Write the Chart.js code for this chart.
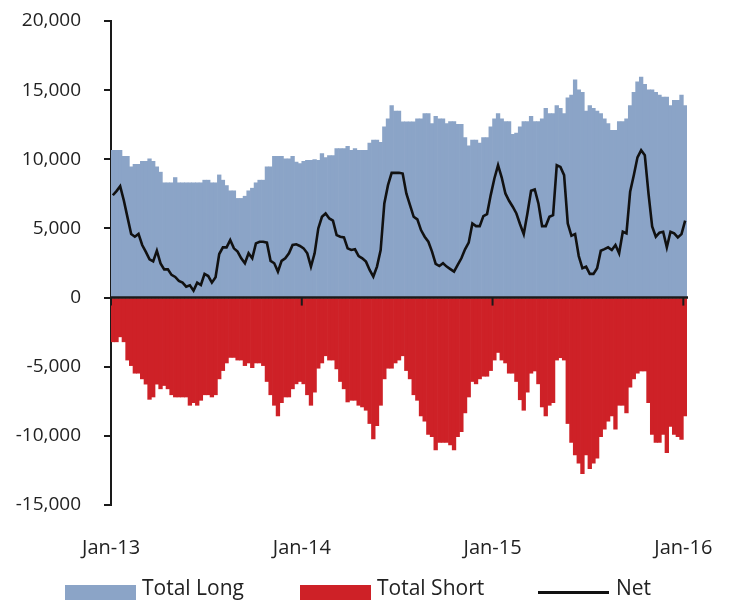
<!DOCTYPE html>
<html>
<head>
<meta charset="utf-8">
<script src="https://cdn.jsdelivr.net/npm/chart.js@4.4.1/dist/chart.umd.min.js"></script>
<style>
  html, body { margin: 0; padding: 0; background: #ffffff; }
  #wrap { position: relative; width: 733px; height: 607px; overflow: hidden; }
  #chart { position: absolute; left: 0; top: 0; }
  .lg { position: absolute; font-family: 'Open Sans', sans-serif; font-size: 21px; line-height: 21px; color: #222; white-space: nowrap; }
  .sw { position: absolute; width: 71px; height: 15px; }
  .ln { position: absolute; width: 71px; height: 3px; background: #111; }
</style>
</head>
<body>
<div id="wrap">
  <canvas id="chart" width="733" height="607"></canvas>
  <div class="sw" style="left:65px;top:585px;background:#8BA4C7"></div>
  <div class="lg" style="left:142px;top:577px">Total Long</div>
  <div class="sw" style="left:300px;top:585px;background:#CE2127"></div>
  <div class="lg" style="left:377px;top:577px">Total Short</div>
  <div class="ln" style="left:538px;top:591px"></div>
  <div class="lg" style="left:616px;top:577px">Net</div>
</div>
<script>
// Weekly positioning, Jan 2013 - Jan 2016 (contracts)
const totalLong = [
  10650,10650,10650,10220,10220,9450,9640,9640,9860,9860,
  10030,9860,9450,9070,8300,8300,8300,8680,8300,8300,
  8300,8300,8300,8300,8300,8490,8490,8300,8300,8870,
  8490,8100,7720,7720,7170,7170,7330,7720,7910,8300,
  8490,8490,9450,9450,10220,10220,10220,10030,10030,10220,
  9800,9690,9850,9930,9930,9980,9930,10410,10130,10270,
  10270,10770,10770,10770,10940,10650,10770,10650,10650,10650,
  11180,11380,11380,11230,12340,12920,13880,13490,13490,12700,
  12700,12700,12700,12920,12920,13300,13300,12580,13110,12920,
  12920,12580,12720,12720,12530,12530,11570,10970,11380,11380,
  11180,11570,11570,12340,12920,13300,12920,12720,12720,11810,
  11900,12340,12720,12720,13110,12720,12720,12920,13680,13300,
  13300,13880,13680,13300,14450,14650,15750,15030,14840,13490,
  13880,13680,13490,13300,12920,12580,12100,12100,12720,12720,
  12920,13880,14840,15610,15950,15420,15030,15030,14840,14650,
  14500,14500,13880,14260,14260,14650,13880
];

const totalShort = [
  -3200,-3200,-2840,-3200,-4520,-4920,-5470,-5470,-5880,-6260,
  -7360,-7190,-6260,-6600,-6360,-6600,-7030,-7190,-7190,-7190,
  -7190,-7790,-7600,-7790,-7430,-7030,-7030,-7190,-7030,-5880,
  -5280,-4730,-4330,-4330,-4520,-4520,-4920,-4730,-5070,-4730,
  -4730,-4920,-6070,-7030,-7790,-8560,-7600,-7190,-7190,-6600,
  -6240,-6070,-6240,-7030,-7790,-6840,-5110,-4730,-4210,-4520,
  -4520,-5160,-6070,-6600,-7550,-7430,-7430,-7790,-7910,-8150,
  -9110,-10230,-9270,-7790,-5880,-5110,-5110,-4730,-4520,-4210,
  -5280,-5880,-7030,-7430,-8560,-8940,-9890,-10060,-11020,-10470,
  -10470,-10470,-10660,-11020,-10060,-9700,-8340,-7190,-6070,-6240,
  -5880,-5690,-5690,-5280,-4520,-3970,-4520,-4730,-5470,-5470,
  -6070,-7390,-8150,-6840,-5470,-5310,-6240,-7910,-8560,-7790,
  -7600,-4520,-4350,-4520,-9110,-10470,-11380,-11970,-12740,-11380,
  -12380,-11970,-11620,-10060,-9510,-8940,-8560,-9510,-7790,-7790,
  -8340,-6480,-5880,-5470,-5310,-5310,-7600,-9890,-10470,-10470,
  -9890,-11210,-9320,-9890,-10060,-10250,-8560
];

const net = [
  7400,7700,8060,7020,5800,4600,4400,4600,3800,3300,
  2770,2620,3390,2470,2040,2040,1640,1490,1200,1080,
  790,890,500,1080,910,1710,1560,1080,1470,3150,
  3630,3630,4160,3560,3320,2840,2480,3200,2840,3920,
  4040,4040,3970,2650,2480,1880,2650,2840,3200,3800,
  3850,3730,3560,3200,2240,3200,5000,5840,6080,5720,
  5560,4520,4400,4350,3560,3440,3490,3000,2840,2600,
  2000,1520,2240,3440,6810,8130,9020,9020,9020,8970,
  7530,6690,5840,5650,4880,4400,4040,3320,2430,2280,
  2480,2240,2060,1880,2360,2840,3490,3970,5360,5170,
  5170,5890,6040,7410,8610,9570,8680,7530,7000,6570,
  6080,5300,4590,6080,7720,7820,6810,5170,5170,5840,
  5960,9570,9450,8850,5360,4470,4590,3000,2120,2240,
  1710,1710,2120,3390,3500,3630,3440,3800,3200,4760,
  4640,7650,8850,10140,10650,10290,7530,5140,4400,4690,
  4760,3630,4760,4640,4350,4590,5560
];

const xTickLabels = ['Jan-13', 'Jan-14', 'Jan-15', 'Jan-16'];
const yTicks = [-15000, -10000, -5000, 0, 5000, 10000, 15000, 20000];

// one category per weekly report date (Fridays)
const firstReport = Date.UTC(2013, 0, 4);
const weeks = totalLong.map((_, i) =>
  new Date(firstReport + i * 7 * 86400000).toISOString().slice(0, 10));

function yearStartLabel(i) {
  const d = weeks[i];
  if (d.slice(5, 7) !== '01' || +d.slice(8, 10) > 7) return '';
  return xTickLabels.find(t => t.endsWith(d.slice(2, 4))) || '';
}

const FAMILY = "'Open Sans', sans-serif";
const INK = '#222222';

// zero line across the plot with small marks where each year starts
const zeroAxis = {
  id: 'zeroAxis',
  afterDatasetsDraw(chart) {
    const { ctx, chartArea, scales: { x, y } } = chart;
    const y0 = y.getPixelForValue(0);
    const half = (x.getPixelForValue(1) - x.getPixelForValue(0)) / 2;
    ctx.save();
    ctx.strokeStyle = '#1a1a1a';
    ctx.lineWidth = 2.5;
    ctx.beginPath();
    ctx.moveTo(chartArea.left, y0);
    ctx.lineTo(chartArea.right + 1, y0);
    ctx.stroke();
    ctx.lineWidth = 2;
    weeks.forEach((_, i) => {
      if (!yearStartLabel(i)) return;
      const px = x.getPixelForValue(i) - half;
      ctx.beginPath();
      ctx.moveTo(px, y0);
      ctx.lineTo(px, y0 + 8);
      ctx.stroke();
    });
    ctx.restore();
  }
};

new Chart(document.getElementById('chart'), {
  data: {
    labels: weeks,
    datasets: [
      {
        type: 'line', label: 'Net', data: net,
        borderColor: '#111111', borderWidth: 2.6, pointRadius: 0,
        tension: 0, order: 0
      },
      {
        type: 'bar', label: 'Total Long', data: totalLong,
        backgroundColor: '#8BA4C7', borderWidth: 0, grouped: false,
        barPercentage: 1, categoryPercentage: 1, order: 2
      },
      {
        type: 'bar', label: 'Total Short', data: totalShort,
        backgroundColor: '#CE2127', borderWidth: 0, grouped: false,
        barPercentage: 1, categoryPercentage: 1, order: 1
      }
    ]
  },
  options: {
    responsive: false,
    animation: false,
    events: [],
    layout: { padding: { top: 21, right: 46, bottom: 46, left: 0 } },
    plugins: { legend: { display: false }, tooltip: { enabled: false } },
    scales: {
      x: {
        type: 'category',
        offset: true,
        grid: { display: false, drawTicks: false },
        border: { display: false },
        afterFit: s => { s.height = 56; s.paddingLeft = 0; s.paddingRight = 0; },
        ticks: {
          autoSkip: false, maxRotation: 0, minRotation: 0,
          padding: 31, labelOffset: -1.8,
          color: INK, font: { family: FAMILY, size: 20 },
          callback: (v, i) => yearStartLabel(i)
        }
      },
      y: {
        min: yTicks[0], max: yTicks[yTicks.length - 1],
        afterBuildTicks: s => { s.ticks = yTicks.map(v => ({ value: v })); },
        afterFit: s => { s.width = 111; s.paddingTop = 0; s.paddingBottom = 0; },
        grid: { drawOnChartArea: false, drawTicks: true, tickLength: 7, color: '#1a1a1a', lineWidth: 2 },
        border: { display: true, color: '#1a1a1a', width: 2 },
        ticks: {
          padding: 23, color: INK, font: { family: FAMILY, size: 19 },
          callback: v => v.toLocaleString('en-US')
        }
      }
    }
  },
  plugins: [zeroAxis]
});
</script>
</body>
</html>
